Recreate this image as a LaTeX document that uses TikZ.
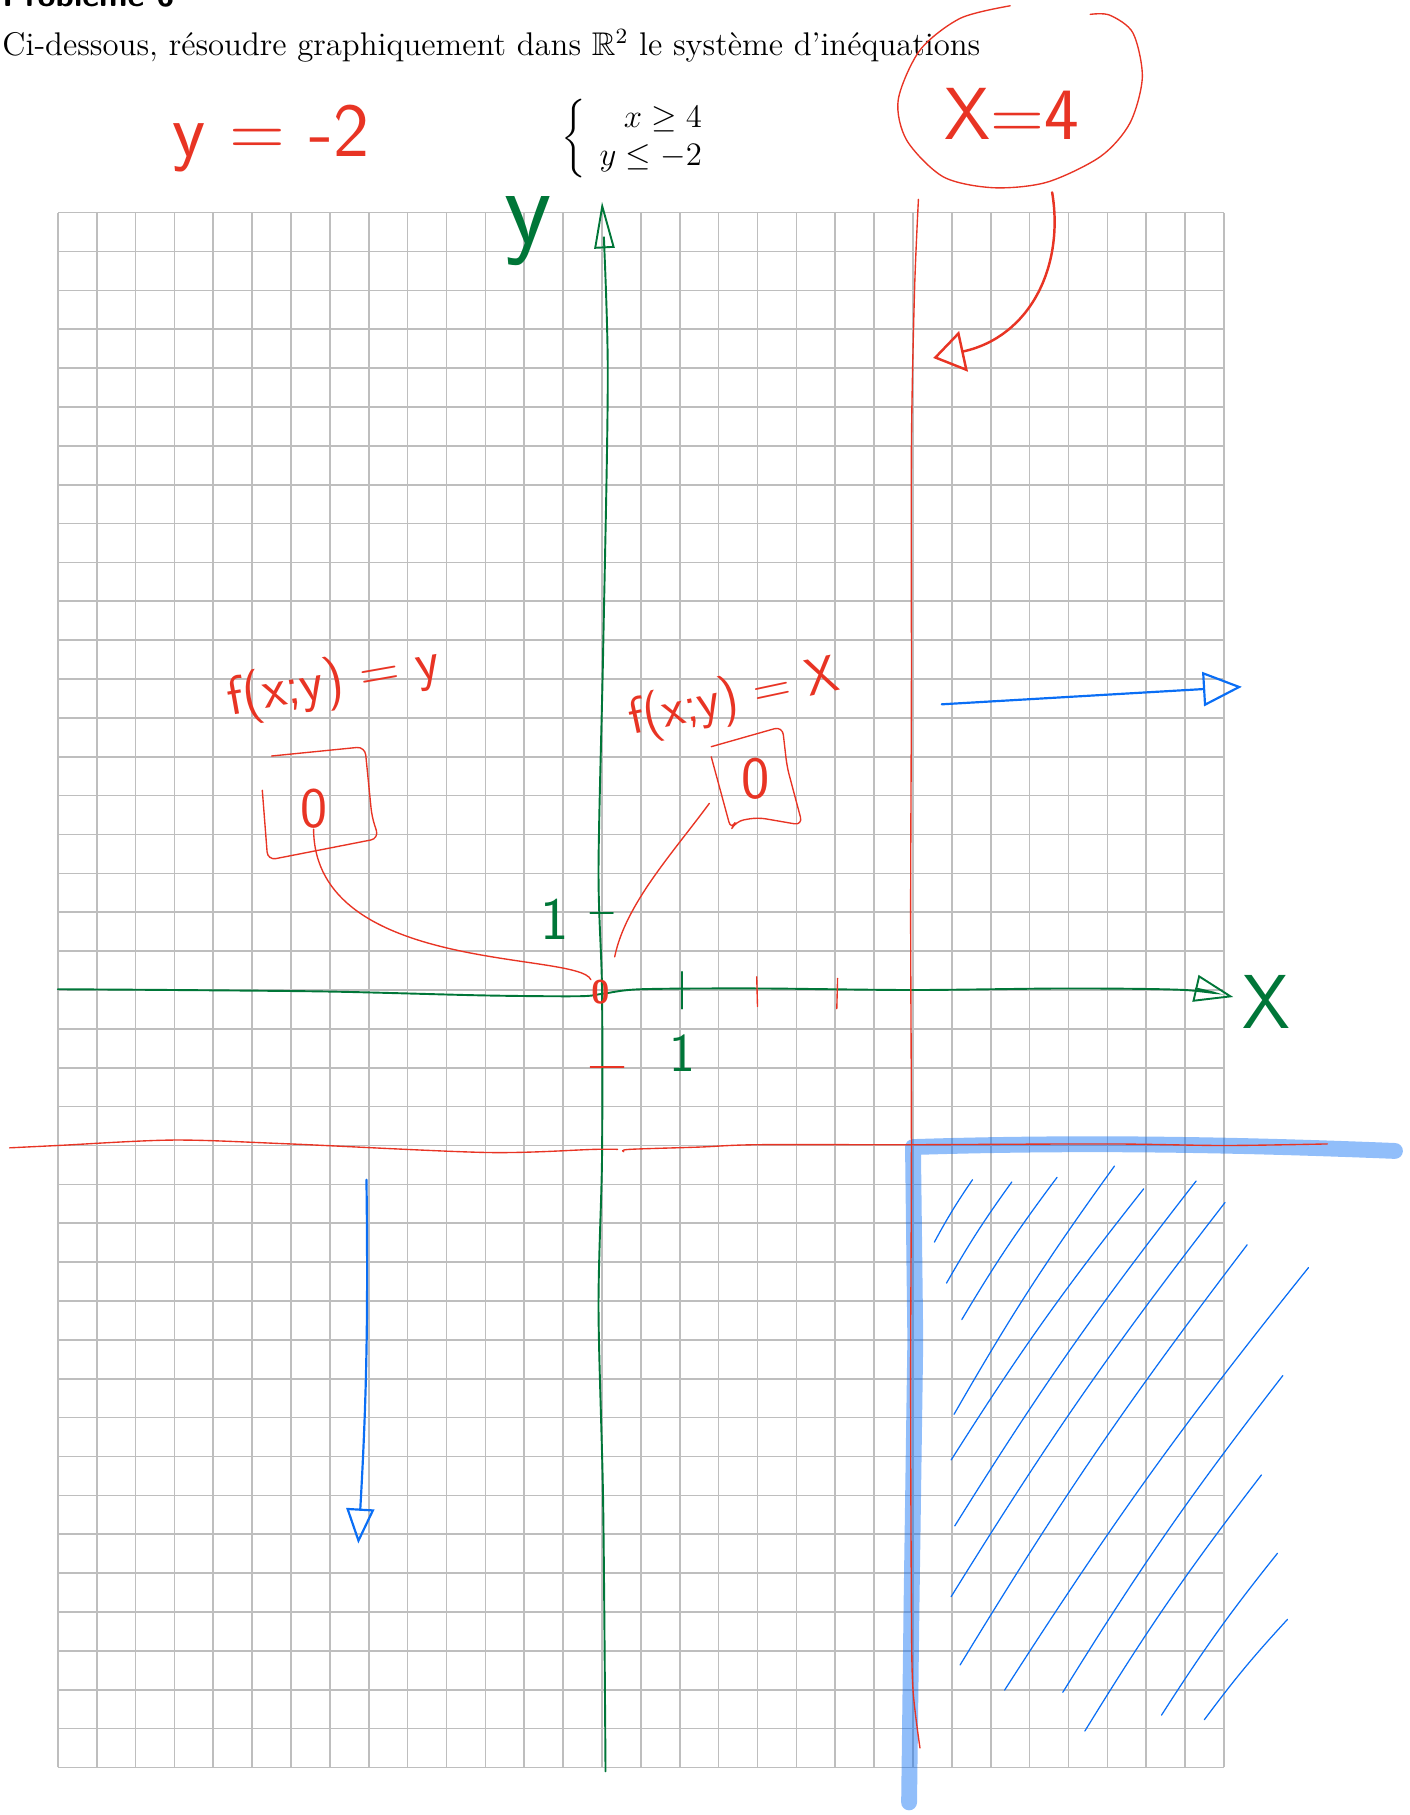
\documentclass[tikz,border=0pt]{standalone}
\usepackage{amsmath,amssymb}
\usepackage{xcolor}
\usepackage{tikz}
\usetikzlibrary{positioning,arrows.meta,calc}

\definecolor{inkred}{RGB}{232,52,36}
\definecolor{inkgreen}{RGB}{0,118,56}
\definecolor{inkblue}{RGB}{10,110,245}
\definecolor{gridgray}{RGB}{190,190,190}

\begin{document}
\begin{tikzpicture}[
  gridline/.style={gridgray, line width=0.6pt, step=0.5},
  pen/.style={inkred, line width=0.5pt, line cap=round, line join=round},
  axis/.style={inkgreen, line width=0.7pt, line cap=round},
  hatch/.style={inkblue, line width=0.45pt, line cap=round},
  highlight/.style={inkblue, opacity=0.45, line width=5.8pt, line cap=round, line join=round},
  redarrow/.style={inkred, line width=0.9pt, line cap=round, -{Triangle[open, length=4mm, width=5.3mm]}},
  bluearrow/.style={inkblue, line width=0.8pt, line cap=round, -{Triangle[open, length=5mm, width=4.4mm]}},
  hand/.style={font=\fontsize{#1}{#1}\selectfont\sffamily, inner sep=0pt},
  txt/.style={font=\fontsize{12}{14}\selectfont, inner sep=0pt}
]
  \useasboundingbox (-7.744,-10.612) rectangle (10.381,12.735);

  \draw[gridline] (-7,-10) grid (8,10);

  \node[anchor=base west, inner sep=0pt, font=\fontsize{12}{14}\selectfont\sffamily\bfseries] (titre) at (-7.72,12.657) {Problème 6};
  \node[txt, anchor=base west] (consigne) at (-7.72,12.02) {Ci-dessous, résoudre graphiquement dans $\mathbb{R}^2$ le système d'inéquations};
  \node[txt] (systeme) at (0.49,10.95) {$\left\{\begin{array}{r} x\geq 4\\ y\leq -2\end{array}\right.$};

  \draw[highlight] (10.2,-2.07) .. controls (8.2,-1.99) and (6.2,-1.95) .. (4.0,-2.02) -- (4.03,-4.5) -- (3.98,-8.0) -- (3.95,-10.45);

  \foreach \xa/\ya/\xb/\yb in {4.275/-3.243/4.766/-2.44, 4.431/-3.77/5.271/-2.469, 4.628/-4.239/5.853/-2.41,
      4.528/-5.458/6.592/-2.264, 4.491/-6.045/6.968/-2.557, 4.537/-6.894/7.642/-2.457, 4.491/-7.803/8.014/-2.733,
      4.606/-8.682/8.298/-3.278, 5.179/-9.005/9.087/-3.571, 5.927/-9.034/8.757/-4.960, 6.211/-9.532/8.482/-6.238,
      7.197/-9.327/8.688/-7.246, 7.748/-9.386/8.817/-8.096}
    \draw[hatch] (\xa,\ya) to[bend left=3] (\xb,\yb);

  \draw[axis, -{Triangle[open, length=6mm, width=2.6mm]}] plot[smooth] coordinates {(0.045,-10.05) (0.015,-6.63) (-0.045,-4.10) (0,-2.16) (0,0) (-0.045,1.56) (0.015,4.39) (0.074,7.97) (0,10.14)};
  \draw[axis, -{Triangle[open, length=5mm, width=3.5mm]}] plot[smooth] coordinates {(-7.0,0.01) (-5.5,0.0) (-3.5,-0.02) (-1.5,-0.07) (-0.3,-0.08) (0,-0.05) (0.5,0.01) (2,0.02) (4,0.0) (6,0.02) (7.5,0.0) (8.12,-0.09)};
  \draw[axis] (1.03,0.235) -- (1.03,-0.24);
  \draw[axis] (-0.15,0.99) -- (0.14,0.99);
  \draw[pen] (1.99,0.17) -- (2.0,-0.21);
  \draw[pen] (3.03,0.15) -- (3.02,-0.24);
  \draw[pen] (-0.15,-0.99) -- (0.28,-0.99);

  \draw[pen] plot[smooth] coordinates {(4.07,10.17) (4.02,9.0) (3.98,7.0) (3.98,4.0) (3.97,1.0) (3.98,-2.0) (3.97,-5.0) (3.98,-8.0) (4.0,-9.0) (4.09,-9.75)};
  \draw[pen] plot[smooth] coordinates {(-7.62,-2.03) (-7.0,-2.0) (-5.51,-1.93) (-4.01,-1.98) (-1.48,-2.09) (-0.105,-2.05) (0.2,-2.05)};
  \draw[pen] plot[smooth] coordinates {(0.28,-2.08) (0.35,-2.05) (1.26,-2.02) (2.0,-1.99) (4.0,-1.99) (6.5,-1.98) (8.0,-2.0) (9.33,-1.98)};

  \node[hand=28, inkred, anchor=base] (yeq) at (-4.26,10.72) {y = -2};
  \node[hand=27, inkred] (xfour) at (5.27,11.27) {X=4};
  \draw[pen] plot[smooth] coordinates {(5.25,12.66) (4.61,12.50) (4.09,12.09) (3.81,11.45) (3.92,10.93) (4.39,10.46) (5.03,10.32) (5.72,10.39) (6.41,10.72) (6.79,11.15) (6.95,11.74) (6.83,12.31) (6.53,12.54) (6.28,12.55)};
  \coordinate (xtip) at (4.26,8.13);
  \draw[redarrow] ($(xfour)+(0.52,-1.01)$) .. controls (5.95,9.3) and (5.5,8.4) .. (xtip);

  \node[hand=20, inkred, rotate=10] (fy) at (-3.45,3.95) {f(x;y) = y};
  \node[hand=21, inkred] (zeroL) at (-3.71,2.33) {0};
  \draw[pen, rounded corners=3pt] (-4.25,3.01) -- (-3.05,3.13) -- (-2.96,2.23) -- (-2.87,1.95) -- (-4.30,1.67) -- (-4.37,2.57);
  \node[hand=19, inkred, rotate=12] (fx) at (1.70,3.74) {f(x;y) = X};
  \node[hand=22, inkred] (zeroR) at (1.98,2.72) {0};
  \draw[pen, rounded corners=3pt] (1.405,3.13) -- (2.32,3.39) -- (2.38,2.87) -- (2.58,2.12) -- (2.0,2.22) -- (1.72,2.17) -- (1.66,2.06) -- (1.405,3.0);

  \node[inkred, inner sep=0pt, font=\fontsize{12}{12}\selectfont\sffamily\bfseries] (orig) at (-0.02,-0.03) {0};
  \draw[pen] (zeroL.south) .. controls (-3.7,0.2) and (-0.3,0.5) .. (orig.north west);
  \draw[pen, shorten >=0.3cm] ($(zeroR)+(-0.6,-0.32)$) .. controls (0.9,1.75) and (0.3,1.1) .. (orig.north east);

  \node[hand=40, inkgreen] (labely) at (-0.95,9.76) {y};
  \node[hand=28, inkgreen] (labelx) at (8.55,-0.15) {X};
  \node[hand=22, inkgreen] (unY) at (-0.61,0.91) {1};
  \node[hand=20, inkgreen] (unX) at (1.03,-0.81) {1};

  \coordinate (droiteA) at (4.37,3.675);
  \coordinate (droiteB) at (8.23,3.90);
  \draw[bluearrow] (droiteA) -- (droiteB);
  \coordinate (basA) at (-3.03,-2.44);
  \coordinate (basB) at (-3.135,-7.12);
  \draw[bluearrow, -{Triangle[open, length=4.5mm, width=3.6mm]}] (basA) to[bend left=2] (basB);
\end{tikzpicture}
\end{document}
